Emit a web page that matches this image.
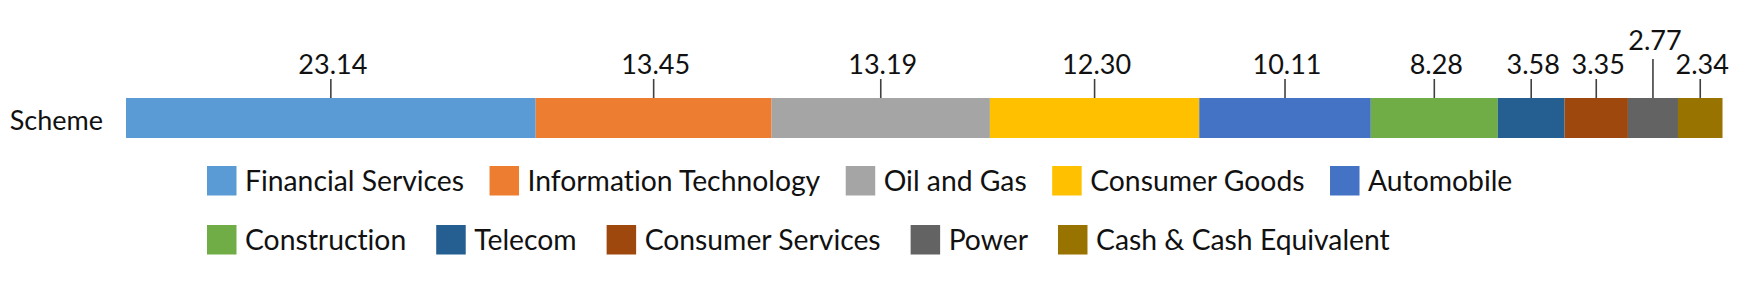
<!DOCTYPE html>
<html>
<head>
<meta charset="utf-8">
<script src="https://cdn.jsdelivr.net/npm/d3@7"></script>
<style>
  body { margin: 0; background: #fff; }
  text {
    font-family: Lato, "Open Sans", sans-serif;
    font-variant-ligatures: none;
    fill: #111;
  }
</style>
</head>
<body>
<div id="chart"></div>
<script>
/* DATA */

const sectors = [
	"Financial Services",
	"Information Technology",
	"Oil and Gas",
	"Consumer Goods",
	"Automobile",
	"Construction",
	"Telecom",
	"Consumer Services",
	"Power",
	"Cash & Cash Equivalent",
];
// printed data labels
const labelValues = [23.14, 13.45, 13.19, 12.3, 10.11, 8.28, 3.58, 3.35, 2.77, 2.34];
// segment lengths as drawn in the picture (they don't quite follow the labels)
const segmentValues = [23.74, 13.67, 12.65, 12.13, 9.94, 7.36, 3.87, 3.67, 2.9, 2.58];
const colours = [
	"#5b9bd5", "#ed7d31", "#a5a5a5", "#ffc000", "#4472c4",
	"#70ad47", "#255e91", "#9e480e", "#636363", "#997300",
];
const seriesName = "Scheme";
// labels that had to be lifted above the others to stay readable
const liftedLabels = ["Power"];

/* SET UP */

const w = 1746;
const h = 290;
const bar = { left: 126, right: 1722.5, top: 98, height: 40 };
const fontSize = 27;
const legendFont = 28.3;

const svg = d3
	.select("#chart")
	.append("svg")
	.attr("width", w)
	.attr("height", h);

// stack the segments one after another
const stacked = [];
let run = 0;
segmentValues.forEach((v, i) => {
	stacked.push({
		name: sectors[i],
		label: labelValues[i],
		x0: run,
		x1: run + v,
		colour: colours[i],
	});
	run += v;
});

const x = d3
	.scaleLinear()
	.domain([0, d3.sum(segmentValues)])
	.range([bar.left, bar.right]);

/* BAR */

svg
	.append("text")
	.text(seriesName)
	.attr("x", 103)
	.attr("y", bar.top + 32)
	.attr("text-anchor", "end")
	.style("font-size", fontSize + "px");

svg
	.selectAll(".seg")
	.data(stacked)
	.join("rect")
	.attr("class", "seg")
	.attr("x", (d) => x(d.x0))
	.attr("y", bar.top)
	.attr("width", (d) => x(d.x1) - x(d.x0))
	.attr("height", bar.height)
	.attr("fill", (d) => d.colour);

/* DATA LABELS with leader ticks */

const labels = svg
	.selectAll(".lab")
	.data(stacked)
	.join("g")
	.attr("class", "lab")
	.attr("transform", (d) => `translate(${(x(d.x0) + x(d.x1)) / 2},0)`);

labels
	.append("line")
	.attr("y1", (d) => (liftedLabels.includes(d.name) ? 59 : 79))
	.attr("y2", bar.top)
	.attr("stroke", "#404040")
	.attr("stroke-width", 1.6);

labels
	.append("text")
	.text((d) => d.label.toFixed(2))
	.attr("x", 2)
	.attr("y", (d) => (liftedLabels.includes(d.name) ? 50 : 74))
	.attr("text-anchor", "middle")
	.style("font-size", fontSize + "px");

/* LEGEND */

const legendRows = [sectors.slice(0, 5), sectors.slice(5)];
const legendGaps = [25.5, 30];
const sq = 29.5;

legendRows.forEach((row, r) => {
	let cx = 207;
	const top = 166 + r * 59;
	row.forEach((name) => {
		const i = sectors.indexOf(name);
		const g = svg.append("g").attr("transform", `translate(${cx},${top})`);
		g.append("rect")
			.attr("width", sq)
			.attr("height", sq)
			.attr("fill", colours[i]);
		const t = g
			.append("text")
			.text(name)
			.attr("x", sq + 8.5)
			.attr("y", 25)
			.style("font-size", legendFont + "px");
		cx += sq + 8.5 + t.node().getComputedTextLength() + legendGaps[r];
	});
});
</script>
</body>
</html>
